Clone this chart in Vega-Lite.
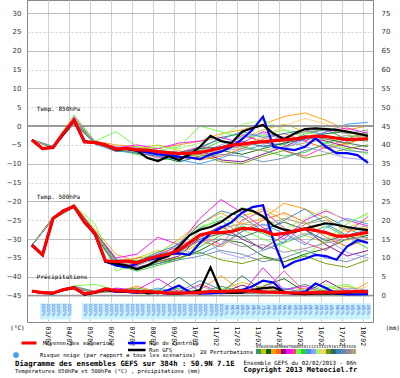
{
"$schema":"https://vega.github.io/schema/vega-lite/v6.json",
"width":346,"height":322,
"autosize":{"type":"none"},
"padding":{"left":27,"top":0,"right":27,"bottom":56},
"background":"white",
"config":{"view":{"stroke":"#888","strokeWidth":1},"font":"DejaVu Sans Mono","legend":{"columnPadding":0}},
"title":{"text":"Diagramme des ensembles GEFS sur 384h : 50.9N 7.1E","subtitle":"Températures 850hPa et 500hPa (°C) , précipitations (mm)","orient":"bottom","anchor":"start","frame":"group","dx":-12,"offset":-12,"font":"DejaVu Sans Mono","fontSize":7.3,"fontWeight":"bold","color":"#000","subtitleFont":"DejaVu Sans Mono","subtitleFontSize":5.5,"subtitleColor":"#000","subtitlePadding":2},
"datasets":{
"runs":[
{"s":"mean","h":0,"a":-3.7,"b":-31.6,"c":1.2},{"s":"mean","h":12,"a":-6.0,"b":-34.2,"c":0.8},{"s":"mean","h":24,"a":-5.7,"b":-24.5,"c":0.7},{"s":"mean","h":36,"a":-1.8,"b":-22.5,"c":1.6},{"s":"mean","h":48,"a":1.6,"b":-21.3,"c":2.1},{"s":"mean","h":60,"a":-4.2,"b":-25.5,"c":0.5},{"s":"mean","h":72,"a":-4.4,"b":-28.5,"c":0.9},{"s":"mean","h":84,"a":-5.0,"b":-35.8,"c":1.8},{"s":"mean","h":96,"a":-6.1,"b":-36.0,"c":1.3},{"s":"mean","h":108,"a":-5.9,"b":-35.8,"c":1.2},{"s":"mean","h":120,"a":-6.3,"b":-36.3,"c":1.0},{"s":"mean","h":132,"a":-6.4,"b":-35.3,"c":1.1},{"s":"mean","h":144,"a":-6.8,"b":-34.5,"c":0.9},{"s":"mean","h":156,"a":-7.1,"b":-34.0,"c":0.7},{"s":"mean","h":168,"a":-7.3,"b":-32.9,"c":0.7},{"s":"mean","h":180,"a":-7.2,"b":-31.0,"c":0.7},{"s":"mean","h":192,"a":-7.0,"b":-28.9,"c":0.8},{"s":"mean","h":204,"a":-6.4,"b":-28.3,"c":1.1},{"s":"mean","h":216,"a":-5.8,"b":-28.3,"c":1.1},{"s":"mean","h":228,"a":-5.1,"b":-28.0,"c":1.2},{"s":"mean","h":240,"a":-4.8,"b":-27.2,"c":1.3},{"s":"mean","h":252,"a":-4.4,"b":-27.3,"c":1.2},{"s":"mean","h":264,"a":-4.2,"b":-27.8,"c":1.0},{"s":"mean","h":276,"a":-3.9,"b":-28.8,"c":0.9},{"s":"mean","h":288,"a":-3.7,"b":-28.5,"c":0.8},{"s":"mean","h":300,"a":-3.4,"b":-27.8,"c":0.7},{"s":"mean","h":312,"a":-3.0,"b":-27.3,"c":0.7},{"s":"mean","h":324,"a":-2.7,"b":-27.7,"c":0.8},{"s":"mean","h":336,"a":-2.8,"b":-28.3,"c":0.9},{"s":"mean","h":348,"a":-3.2,"b":-29.2,"c":0.9},{"s":"mean","h":360,"a":-3.6,"b":-29.2,"c":1.0},{"s":"mean","h":372,"a":-3.5,"b":-28.7,"c":1.1},{"s":"mean","h":384,"a":-3.4,"b":-28.2,"c":1.0},
{"s":"ctrl","h":0,"a":-3.7,"b":-31.6,"c":1.2},{"s":"ctrl","h":12,"a":-6.0,"b":-34.2,"c":0.7},{"s":"ctrl","h":24,"a":-5.6,"b":-24.6,"c":0.6},{"s":"ctrl","h":36,"a":-2.0,"b":-22.4,"c":1.7},{"s":"ctrl","h":48,"a":1.5,"b":-21.3,"c":2.2},{"s":"ctrl","h":60,"a":-4.2,"b":-25.6,"c":0.3},{"s":"ctrl","h":72,"a":-4.5,"b":-28.8,"c":0.9},{"s":"ctrl","h":84,"a":-5.0,"b":-36.0,"c":1.6},{"s":"ctrl","h":96,"a":-6.2,"b":-37.0,"c":1.0},{"s":"ctrl","h":108,"a":-6.0,"b":-37.5,"c":1.0},{"s":"ctrl","h":120,"a":-6.5,"b":-36.5,"c":0.8},{"s":"ctrl","h":132,"a":-7.0,"b":-35.5,"c":1.2},{"s":"ctrl","h":144,"a":-7.5,"b":-35.0,"c":0.6},{"s":"ctrl","h":156,"a":-7.8,"b":-34.0,"c":1.5},{"s":"ctrl","h":168,"a":-8.2,"b":-33.8,"c":2.7},{"s":"ctrl","h":180,"a":-8.3,"b":-34.2,"c":1.0},{"s":"ctrl","h":192,"a":-8.8,"b":-31.0,"c":0.5},{"s":"ctrl","h":204,"a":-7.5,"b":-28.5,"c":0.6},{"s":"ctrl","h":216,"a":-6.8,"b":-27.0,"c":0.8},{"s":"ctrl","h":228,"a":-5.5,"b":-25.5,"c":1.0},{"s":"ctrl","h":240,"a":-3.5,"b":-23.0,"c":1.5},{"s":"ctrl","h":252,"a":-1.0,"b":-21.5,"c":2.5},{"s":"ctrl","h":264,"a":2.5,"b":-21.0,"c":4.0},{"s":"ctrl","h":276,"a":-5.5,"b":-30.5,"c":3.5},{"s":"ctrl","h":288,"a":-6.0,"b":-37.5,"c":0.8},{"s":"ctrl","h":300,"a":-6.4,"b":-36.0,"c":0.5},{"s":"ctrl","h":312,"a":-5.5,"b":-35.2,"c":1.0},{"s":"ctrl","h":324,"a":-3.3,"b":-34.2,"c":3.2},{"s":"ctrl","h":336,"a":-5.5,"b":-34.5,"c":2.0},{"s":"ctrl","h":348,"a":-7.2,"b":-35.5,"c":0.5},{"s":"ctrl","h":360,"a":-7.2,"b":-32.0,"c":0.3},{"s":"ctrl","h":372,"a":-7.7,"b":-30.3,"c":0.3},{"s":"ctrl","h":384,"a":-9.8,"b":-31.0,"c":0.4},
{"s":"gfs","h":0,"a":-3.7,"b":-31.6,"c":1.2},{"s":"gfs","h":12,"a":-6.0,"b":-34.2,"c":0.7},{"s":"gfs","h":24,"a":-5.6,"b":-24.5,"c":0.6},{"s":"gfs","h":36,"a":-2.2,"b":-22.5,"c":1.6},{"s":"gfs","h":48,"a":1.5,"b":-21.3,"c":2.0},{"s":"gfs","h":60,"a":-4.0,"b":-25.5,"c":0.3},{"s":"gfs","h":72,"a":-4.4,"b":-28.6,"c":0.8},{"s":"gfs","h":84,"a":-5.0,"b":-36.0,"c":1.5},{"s":"gfs","h":96,"a":-6.3,"b":-36.5,"c":1.2},{"s":"gfs","h":108,"a":-6.0,"b":-37.0,"c":1.0},{"s":"gfs","h":120,"a":-6.5,"b":-38.0,"c":1.2},{"s":"gfs","h":132,"a":-8.5,"b":-37.0,"c":0.6},{"s":"gfs","h":144,"a":-9.3,"b":-35.5,"c":0.8},{"s":"gfs","h":156,"a":-8.0,"b":-34.5,"c":0.5},{"s":"gfs","h":168,"a":-9.0,"b":-32.0,"c":0.5},{"s":"gfs","h":180,"a":-7.5,"b":-29.0,"c":0.8},{"s":"gfs","h":192,"a":-5.5,"b":-27.5,"c":1.5},{"s":"gfs","h":204,"a":-2.6,"b":-26.8,"c":7.5},{"s":"gfs","h":216,"a":-4.0,"b":-25.5,"c":1.0},{"s":"gfs","h":228,"a":-4.5,"b":-23.5,"c":0.7},{"s":"gfs","h":240,"a":-1.5,"b":-22.0,"c":0.8},{"s":"gfs","h":252,"a":-0.5,"b":-22.5,"c":1.5},{"s":"gfs","h":264,"a":0.3,"b":-24.0,"c":2.0},{"s":"gfs","h":276,"a":-2.0,"b":-26.5,"c":2.2},{"s":"gfs","h":288,"a":-3.5,"b":-27.5,"c":1.0},{"s":"gfs","h":300,"a":-2.0,"b":-28.0,"c":0.5},{"s":"gfs","h":312,"a":-0.8,"b":-27.2,"c":0.4},{"s":"gfs","h":324,"a":-0.6,"b":-26.5,"c":0.5},{"s":"gfs","h":336,"a":-0.8,"b":-25.8,"c":0.6},{"s":"gfs","h":348,"a":-1.0,"b":-26.2,"c":0.5},{"s":"gfs","h":360,"a":-1.5,"b":-26.8,"c":0.8},{"s":"gfs","h":372,"a":-2.0,"b":-27.3,"c":1.0},{"s":"gfs","h":384,"a":-2.6,"b":-27.6,"c":1.0}
],
"pert":[
{"s":"01","h":0,"a":-3.7,"b":-31.6,"c":1.2},{"s":"01","h":24,"a":-5.5,"b":-24.3,"c":0.6},{"s":"01","h":48,"a":0.5,"b":-21.0,"c":2.0},{"s":"01","h":72,"a":-4.6,"b":-28.0,"c":0.8},{"s":"01","h":96,"a":-5.5,"b":-35.5,"c":1.2},{"s":"01","h":120,"a":-6.8,"b":-37.0,"c":1.0},{"s":"01","h":144,"a":-7.5,"b":-35.0,"c":1.5},{"s":"01","h":168,"a":-8.5,"b":-31.0,"c":0.5},{"s":"01","h":192,"a":-6.0,"b":-27.0,"c":0.8},{"s":"01","h":216,"a":-3.0,"b":-25.0,"c":2.5},{"s":"01","h":240,"a":-2.0,"b":-29.0,"c":1.0},{"s":"01","h":264,"a":-4.5,"b":-33.0,"c":0.5},{"s":"01","h":288,"a":-5.0,"b":-31.0,"c":1.5},{"s":"01","h":312,"a":-2.0,"b":-26.0,"c":3.0},{"s":"01","h":336,"a":-1.0,"b":-24.0,"c":1.0},{"s":"01","h":360,"a":-3.5,"b":-27.0,"c":0.8},{"s":"01","h":384,"a":-4.0,"b":-30.0,"c":1.2},
{"s":"02","h":0,"a":-3.7,"b":-31.6,"c":1.2},{"s":"02","h":24,"a":-5.8,"b":-24.8,"c":0.7},{"s":"02","h":48,"a":1.0,"b":-21.5,"c":2.3},{"s":"02","h":72,"a":-4.2,"b":-29.0,"c":0.9},{"s":"02","h":96,"a":-6.5,"b":-36.5,"c":1.5},{"s":"02","h":120,"a":-6.0,"b":-35.0,"c":0.5},{"s":"02","h":144,"a":-5.0,"b":-33.0,"c":0.6},{"s":"02","h":168,"a":-6.5,"b":-34.0,"c":1.0},{"s":"02","h":192,"a":-8.5,"b":-31.0,"c":0.4},{"s":"02","h":216,"a":-7.0,"b":-27.5,"c":1.5},{"s":"02","h":240,"a":-3.5,"b":-24.0,"c":3.5},{"s":"02","h":264,"a":-1.0,"b":-22.0,"c":2.0},{"s":"02","h":288,"a":0.5,"b":-25.0,"c":1.0},{"s":"02","h":312,"a":-1.5,"b":-29.0,"c":0.5},{"s":"02","h":336,"a":-3.0,"b":-31.0,"c":1.5},{"s":"02","h":360,"a":-5.0,"b":-27.0,"c":2.5},{"s":"02","h":384,"a":-2.5,"b":-25.0,"c":1.0},
{"s":"03","h":0,"a":-3.7,"b":-31.6,"c":1.2},{"s":"03","h":24,"a":-5.4,"b":-24.5,"c":0.6},{"s":"03","h":48,"a":2.0,"b":-21.2,"c":2.1},{"s":"03","h":72,"a":-4.5,"b":-28.5,"c":1.0},{"s":"03","h":96,"a":-6.0,"b":-37.0,"c":1.3},{"s":"03","h":120,"a":-7.2,"b":-38.0,"c":1.2},{"s":"03","h":144,"a":-8.0,"b":-36.5,"c":0.8},{"s":"03","h":168,"a":-9.5,"b":-35.0,"c":0.6},{"s":"03","h":192,"a":-8.0,"b":-33.0,"c":1.0},{"s":"03","h":216,"a":-6.5,"b":-30.0,"c":0.5},{"s":"03","h":240,"a":-7.5,"b":-31.0,"c":0.8},{"s":"03","h":264,"a":-6.0,"b":-34.5,"c":2.5},{"s":"03","h":288,"a":-4.5,"b":-36.0,"c":4.5},{"s":"03","h":312,"a":-3.5,"b":-34.0,"c":1.0},{"s":"03","h":336,"a":-2.0,"b":-32.5,"c":0.5},{"s":"03","h":360,"a":-1.5,"b":-30.0,"c":0.6},{"s":"03","h":384,"a":-2.5,"b":-29.0,"c":1.5},
{"s":"04","h":0,"a":-3.7,"b":-31.6,"c":1.2},{"s":"04","h":24,"a":-5.6,"b":-24.2,"c":0.8},{"s":"04","h":48,"a":1.8,"b":-20.8,"c":2.4},{"s":"04","h":72,"a":-4.0,"b":-27.5,"c":0.7},{"s":"04","h":96,"a":-5.0,"b":-34.0,"c":1.0},{"s":"04","h":120,"a":-5.5,"b":-36.0,"c":2.5},{"s":"04","h":144,"a":-6.0,"b":-34.0,"c":1.0},{"s":"04","h":168,"a":-5.0,"b":-30.0,"c":0.5},{"s":"04","h":192,"a":-4.0,"b":-26.0,"c":1.5},{"s":"04","h":216,"a":-2.0,"b":-23.0,"c":5.3},{"s":"04","h":240,"a":-1.0,"b":-26.0,"c":1.2},{"s":"04","h":264,"a":0.5,"b":-24.5,"c":0.8},{"s":"04","h":288,"a":2.5,"b":-20.5,"c":0.5},{"s":"04","h":312,"a":3.5,"b":-22.0,"c":1.2},{"s":"04","h":336,"a":1.5,"b":-24.5,"c":0.7},{"s":"04","h":360,"a":-1.0,"b":-28.0,"c":0.5},{"s":"04","h":384,"a":0.0,"b":-27.0,"c":3.5},
{"s":"05","h":0,"a":-3.7,"b":-31.6,"c":1.2},{"s":"05","h":24,"a":-5.7,"b":-24.6,"c":0.7},{"s":"05","h":48,"a":1.2,"b":-21.4,"c":2.2},{"s":"05","h":72,"a":-4.3,"b":-29.0,"c":0.8},{"s":"05","h":96,"a":-6.8,"b":-36.5,"c":1.4},{"s":"05","h":120,"a":-6.0,"b":-35.0,"c":0.8},{"s":"05","h":144,"a":-7.0,"b":-34.5,"c":1.2},{"s":"05","h":168,"a":-8.0,"b":-33.0,"c":1.5},{"s":"05","h":192,"a":-9.0,"b":-30.5,"c":0.6},{"s":"05","h":216,"a":-8.0,"b":-32.0,"c":0.8},{"s":"05","h":240,"a":-6.0,"b":-28.0,"c":1.5},{"s":"05","h":264,"a":-3.5,"b":-25.0,"c":1.0},{"s":"05","h":288,"a":-2.0,"b":-23.0,"c":0.6},{"s":"05","h":312,"a":-4.0,"b":-25.5,"c":2.0},{"s":"05","h":336,"a":-6.0,"b":-29.5,"c":0.8},{"s":"05","h":360,"a":-4.5,"b":-32.0,"c":1.5},{"s":"05","h":384,"a":-3.0,"b":-30.0,"c":0.6},
{"s":"06","h":0,"a":-3.7,"b":-31.6,"c":1.2},{"s":"06","h":24,"a":-5.5,"b":-24.4,"c":0.6},{"s":"06","h":48,"a":1.5,"b":-21.1,"c":2.0},{"s":"06","h":72,"a":-4.4,"b":-28.5,"c":0.9},{"s":"06","h":96,"a":-6.2,"b":-36.0,"c":1.8},{"s":"06","h":120,"a":-6.5,"b":-37.5,"c":1.0},{"s":"06","h":144,"a":-7.0,"b":-36.0,"c":0.7},{"s":"06","h":168,"a":-7.5,"b":-34.5,"c":0.8},{"s":"06","h":192,"a":-6.5,"b":-29.5,"c":1.2},{"s":"06","h":216,"a":-9.0,"b":-26.5,"c":0.6},{"s":"06","h":240,"a":-9.5,"b":-30.0,"c":2.8},{"s":"06","h":264,"a":-7.5,"b":-32.5,"c":1.0},{"s":"06","h":288,"a":-5.5,"b":-29.0,"c":0.7},{"s":"06","h":312,"a":-3.0,"b":-27.5,"c":0.5},{"s":"06","h":336,"a":-4.0,"b":-31.5,"c":4.0},{"s":"06","h":360,"a":-5.5,"b":-34.5,"c":1.0},{"s":"06","h":384,"a":-6.5,"b":-33.0,"c":0.8},
{"s":"07","h":0,"a":-3.7,"b":-31.6,"c":1.2},{"s":"07","h":24,"a":-5.6,"b":-24.5,"c":0.7},{"s":"07","h":48,"a":2.5,"b":-20.9,"c":2.5},{"s":"07","h":72,"a":-4.0,"b":-28.2,"c":0.8},{"s":"07","h":96,"a":-5.8,"b":-35.0,"c":2.0},{"s":"07","h":120,"a":-5.0,"b":-34.0,"c":1.5},{"s":"07","h":144,"a":-6.0,"b":-29.5,"c":4.5},{"s":"07","h":168,"a":-4.5,"b":-31.5,"c":1.0},{"s":"07","h":192,"a":-4.0,"b":-24.5,"c":0.8},{"s":"07","h":216,"a":-3.0,"b":-19.5,"c":1.2},{"s":"07","h":240,"a":-4.5,"b":-23.0,"c":0.6},{"s":"07","h":264,"a":-1.5,"b":-27.0,"c":7.4},{"s":"07","h":288,"a":-3.0,"b":-30.0,"c":1.5},{"s":"07","h":312,"a":-4.0,"b":-25.0,"c":2.5},{"s":"07","h":336,"a":-1.5,"b":-22.5,"c":0.6},{"s":"07","h":360,"a":-0.5,"b":-25.0,"c":1.0},{"s":"07","h":384,"a":-2.0,"b":-26.5,"c":0.7},
{"s":"08","h":0,"a":-3.7,"b":-31.6,"c":1.2},{"s":"08","h":24,"a":-5.8,"b":-24.7,"c":0.8},{"s":"08","h":48,"a":0.8,"b":-21.6,"c":2.1},{"s":"08","h":72,"a":-4.7,"b":-28.8,"c":1.0},{"s":"08","h":96,"a":-6.0,"b":-36.2,"c":1.1},{"s":"08","h":120,"a":-6.8,"b":-37.0,"c":0.6},{"s":"08","h":144,"a":-8.5,"b":-34.0,"c":1.0},{"s":"08","h":168,"a":-7.0,"b":-32.0,"c":0.5},{"s":"08","h":192,"a":-5.5,"b":-29.0,"c":3.0},{"s":"08","h":216,"a":-6.0,"b":-31.5,"c":1.0},{"s":"08","h":240,"a":-2.5,"b":-25.0,"c":0.8},{"s":"08","h":264,"a":-4.0,"b":-22.5,"c":0.7},{"s":"08","h":288,"a":-6.5,"b":-27.0,"c":6.6},{"s":"08","h":312,"a":-8.0,"b":-31.0,"c":1.0},{"s":"08","h":336,"a":-5.5,"b":-33.0,"c":1.2},{"s":"08","h":360,"a":-3.5,"b":-28.5,"c":0.5},{"s":"08","h":384,"a":-1.5,"b":-24.0,"c":0.8},
{"s":"09","h":0,"a":-3.7,"b":-31.6,"c":1.2},{"s":"09","h":24,"a":-5.5,"b":-24.3,"c":0.6},{"s":"09","h":48,"a":3.0,"b":-21.0,"c":2.6},{"s":"09","h":72,"a":-4.1,"b":-26.0,"c":3.0},{"s":"09","h":96,"a":-1.5,"b":-38.5,"c":1.5},{"s":"09","h":120,"a":-5.5,"b":-36.5,"c":1.0},{"s":"09","h":144,"a":-6.5,"b":-35.0,"c":0.8},{"s":"09","h":168,"a":-5.5,"b":-33.5,"c":0.7},{"s":"09","h":192,"a":0.0,"b":-27.5,"c":0.5},{"s":"09","h":216,"a":-1.5,"b":-24.0,"c":0.9},{"s":"09","h":240,"a":-3.0,"b":-27.5,"c":1.2},{"s":"09","h":264,"a":-2.5,"b":-30.0,"c":0.6},{"s":"09","h":288,"a":-1.0,"b":-32.0,"c":1.0},{"s":"09","h":312,"a":-3.0,"b":-34.5,"c":0.8},{"s":"09","h":336,"a":-4.5,"b":-30.0,"c":2.0},{"s":"09","h":360,"a":-6.0,"b":-26.0,"c":3.0},{"s":"09","h":384,"a":-7.5,"b":-23.0,"c":0.6},
{"s":"10","h":0,"a":-3.7,"b":-31.6,"c":1.2},{"s":"10","h":24,"a":-5.6,"b":-24.6,"c":0.7},{"s":"10","h":48,"a":1.4,"b":-21.3,"c":2.2},{"s":"10","h":72,"a":-4.5,"b":-28.6,"c":0.8},{"s":"10","h":96,"a":-6.3,"b":-36.8,"c":1.2},{"s":"10","h":120,"a":-7.5,"b":-38.5,"c":1.5},{"s":"10","h":144,"a":-9.0,"b":-37.0,"c":1.0},{"s":"10","h":168,"a":-8.5,"b":-35.5,"c":2.0},{"s":"10","h":192,"a":-6.5,"b":-32.0,"c":0.7},{"s":"10","h":216,"a":-4.0,"b":-29.0,"c":1.5},{"s":"10","h":240,"a":-5.5,"b":-26.5,"c":0.5},{"s":"10","h":264,"a":-6.5,"b":-28.5,"c":1.0},{"s":"10","h":288,"a":-8.0,"b":-31.0,"c":0.8},{"s":"10","h":312,"a":-7.0,"b":-29.0,"c":0.6},{"s":"10","h":336,"a":-4.5,"b":-26.5,"c":0.5},{"s":"10","h":360,"a":-3.0,"b":-29.5,"c":0.8},{"s":"10","h":384,"a":-2.0,"b":-32.5,"c":1.0},
{"s":"11","h":0,"a":-3.7,"b":-31.6,"c":1.2},{"s":"11","h":24,"a":-5.7,"b":-24.5,"c":0.6},{"s":"11","h":48,"a":1.0,"b":-21.5,"c":2.0},{"s":"11","h":72,"a":-4.8,"b":-29.2,"c":0.9},{"s":"11","h":96,"a":-6.7,"b":-37.0,"c":1.0},{"s":"11","h":120,"a":-7.0,"b":-36.0,"c":0.7},{"s":"11","h":144,"a":-8.0,"b":-34.0,"c":2.0},{"s":"11","h":168,"a":-9.0,"b":-33.0,"c":0.8},{"s":"11","h":192,"a":-10.0,"b":-34.0,"c":1.0},{"s":"11","h":216,"a":-8.5,"b":-31.5,"c":0.5},{"s":"11","h":240,"a":-6.5,"b":-28.0,"c":1.8},{"s":"11","h":264,"a":-5.0,"b":-26.0,"c":0.6},{"s":"11","h":288,"a":-6.0,"b":-28.5,"c":0.9},{"s":"11","h":312,"a":-3.5,"b":-31.5,"c":1.5},{"s":"11","h":336,"a":-1.5,"b":-27.0,"c":0.6},{"s":"11","h":360,"a":0.5,"b":-24.5,"c":0.4},{"s":"11","h":384,"a":1.0,"b":-26.0,"c":0.5},
{"s":"12","h":0,"a":-3.7,"b":-31.6,"c":1.2},{"s":"12","h":24,"a":-5.5,"b":-24.4,"c":0.7},{"s":"12","h":48,"a":1.7,"b":-21.2,"c":2.3},{"s":"12","h":72,"a":-4.2,"b":-28.3,"c":0.7},{"s":"12","h":96,"a":-5.5,"b":-35.8,"c":1.3},{"s":"12","h":120,"a":-5.8,"b":-36.5,"c":1.2},{"s":"12","h":144,"a":-6.5,"b":-35.5,"c":0.6},{"s":"12","h":168,"a":-7.0,"b":-32.5,"c":1.0},{"s":"12","h":192,"a":-7.5,"b":-29.0,"c":2.5},{"s":"12","h":216,"a":-5.0,"b":-33.5,"c":1.0},{"s":"12","h":240,"a":-3.0,"b":-35.0,"c":0.7},{"s":"12","h":264,"a":-2.0,"b":-33.0,"c":1.5},{"s":"12","h":288,"a":-3.5,"b":-30.5,"c":0.5},{"s":"12","h":312,"a":-5.5,"b":-28.5,"c":0.7},{"s":"12","h":336,"a":-7.0,"b":-30.0,"c":1.0},{"s":"12","h":360,"a":-8.5,"b":-33.5,"c":2.0},{"s":"12","h":384,"a":-9.0,"b":-35.0,"c":1.5},
{"s":"13","h":0,"a":-3.7,"b":-31.6,"c":1.2},{"s":"13","h":24,"a":-5.6,"b":-24.6,"c":0.8},{"s":"13","h":48,"a":2.2,"b":-21.4,"c":2.4},{"s":"13","h":72,"a":-4.3,"b":-28.7,"c":1.2},{"s":"13","h":96,"a":-6.0,"b":-36.3,"c":1.6},{"s":"13","h":120,"a":-6.2,"b":-35.5,"c":0.8},{"s":"13","h":144,"a":-5.5,"b":-33.5,"c":1.5},{"s":"13","h":168,"a":-6.0,"b":-30.5,"c":0.6},{"s":"13","h":192,"a":-4.5,"b":-26.5,"c":0.9},{"s":"13","h":216,"a":-2.5,"b":-25.5,"c":2.0},{"s":"13","h":240,"a":0.5,"b":-21.5,"c":1.0},{"s":"13","h":264,"a":1.5,"b":-24.0,"c":0.5},{"s":"13","h":288,"a":-1.0,"b":-27.5,"c":1.2},{"s":"13","h":312,"a":-2.0,"b":-24.5,"c":0.8},{"s":"13","h":336,"a":-0.5,"b":-22.0,"c":3.0},{"s":"13","h":360,"a":-2.0,"b":-25.5,"c":0.7},{"s":"13","h":384,"a":-4.0,"b":-23.5,"c":0.5},
{"s":"14","h":0,"a":-3.7,"b":-31.6,"c":1.2},{"s":"14","h":24,"a":-5.4,"b":-24.5,"c":0.6},{"s":"14","h":48,"a":1.6,"b":-21.1,"c":2.1},{"s":"14","h":72,"a":-4.6,"b":-28.4,"c":0.8},{"s":"14","h":96,"a":-6.4,"b":-36.0,"c":1.0},{"s":"14","h":120,"a":-6.8,"b":-36.8,"c":1.0},{"s":"14","h":144,"a":-7.5,"b":-35.0,"c":0.5},{"s":"14","h":168,"a":-6.5,"b":-34.0,"c":0.8},{"s":"14","h":192,"a":-8.0,"b":-31.5,"c":1.5},{"s":"14","h":216,"a":-6.5,"b":-28.0,"c":0.7},{"s":"14","h":240,"a":-5.0,"b":-25.5,"c":0.9},{"s":"14","h":264,"a":-3.0,"b":-21.5,"c":2.5},{"s":"14","h":288,"a":0.0,"b":-23.5,"c":0.7},{"s":"14","h":312,"a":2.0,"b":-27.0,"c":1.8},{"s":"14","h":336,"a":0.5,"b":-28.0,"c":0.5},{"s":"14","h":360,"a":-1.5,"b":-30.5,"c":0.6},{"s":"14","h":384,"a":-3.0,"b":-28.5,"c":2.5},
{"s":"15","h":0,"a":-3.7,"b":-31.6,"c":1.2},{"s":"15","h":24,"a":-5.7,"b":-24.7,"c":0.7},{"s":"15","h":48,"a":1.1,"b":-21.5,"c":2.2},{"s":"15","h":72,"a":-4.4,"b":-29.0,"c":1.0},{"s":"15","h":96,"a":-6.6,"b":-37.2,"c":1.4},{"s":"15","h":120,"a":-6.3,"b":-38.0,"c":2.0},{"s":"15","h":144,"a":-7.2,"b":-36.0,"c":0.9},{"s":"15","h":168,"a":-8.2,"b":-35.0,"c":0.6},{"s":"15","h":192,"a":-7.5,"b":-33.5,"c":0.7},{"s":"15","h":216,"a":-9.5,"b":-35.5,"c":0.8},{"s":"15","h":240,"a":-10.0,"b":-36.5,"c":0.6},{"s":"15","h":264,"a":-8.0,"b":-35.0,"c":0.8},{"s":"15","h":288,"a":-6.5,"b":-36.0,"c":1.0},{"s":"15","h":312,"a":-8.5,"b":-34.5,"c":0.6},{"s":"15","h":336,"a":-7.5,"b":-36.5,"c":1.5},{"s":"15","h":360,"a":-6.0,"b":-37.5,"c":1.0},{"s":"15","h":384,"a":-5.0,"b":-35.5,"c":0.8},
{"s":"16","h":0,"a":-3.7,"b":-31.6,"c":1.2},{"s":"16","h":24,"a":-5.6,"b":-24.3,"c":0.8},{"s":"16","h":48,"a":1.9,"b":-21.0,"c":2.0},{"s":"16","h":72,"a":-4.5,"b":-28.0,"c":0.9},{"s":"16","h":96,"a":-6.1,"b":-35.5,"c":1.2},{"s":"16","h":120,"a":-6.5,"b":-35.8,"c":0.6},{"s":"16","h":144,"a":-6.8,"b":-34.5,"c":1.2},{"s":"16","h":168,"a":-7.0,"b":-33.5,"c":4.9},{"s":"16","h":192,"a":-6.0,"b":-30.0,"c":1.0},{"s":"16","h":216,"a":-5.5,"b":-28.5,"c":0.7},{"s":"16","h":240,"a":-4.0,"b":-29.5,"c":5.3},{"s":"16","h":264,"a":-5.5,"b":-27.5,"c":1.2},{"s":"16","h":288,"a":-4.5,"b":-25.5,"c":0.6},{"s":"16","h":312,"a":-2.5,"b":-27.5,"c":1.0},{"s":"16","h":336,"a":-3.5,"b":-30.5,"c":0.8},{"s":"16","h":360,"a":-4.5,"b":-29.0,"c":1.2},{"s":"16","h":384,"a":-5.5,"b":-31.0,"c":0.6},
{"s":"17","h":0,"a":-3.7,"b":-31.6,"c":1.2},{"s":"17","h":24,"a":-5.5,"b":-24.5,"c":0.6},{"s":"17","h":48,"a":1.3,"b":-21.2,"c":2.3},{"s":"17","h":72,"a":-4.3,"b":-28.5,"c":0.8},{"s":"17","h":96,"a":-5.9,"b":-36.2,"c":1.7},{"s":"17","h":120,"a":-6.6,"b":-36.0,"c":1.0},{"s":"17","h":144,"a":-7.5,"b":-33.5,"c":0.7},{"s":"17","h":168,"a":-7.8,"b":-31.5,"c":1.0},{"s":"17","h":192,"a":-5.5,"b":-26.0,"c":4.0},{"s":"17","h":216,"a":-3.5,"b":-22.5,"c":1.5},{"s":"17","h":240,"a":-1.5,"b":-24.0,"c":0.8},{"s":"17","h":264,"a":-3.0,"b":-28.0,"c":0.6},{"s":"17","h":288,"a":-2.0,"b":-25.0,"c":2.0},{"s":"17","h":312,"a":-1.0,"b":-22.0,"c":0.7},{"s":"17","h":336,"a":-2.5,"b":-26.0,"c":1.0},{"s":"17","h":360,"a":-4.0,"b":-29.0,"c":0.5},{"s":"17","h":384,"a":-3.5,"b":-27.5,"c":0.7},
{"s":"18","h":0,"a":-3.7,"b":-31.6,"c":1.2},{"s":"18","h":24,"a":-5.8,"b":-24.6,"c":0.7},{"s":"18","h":48,"a":0.9,"b":-21.6,"c":2.5},{"s":"18","h":72,"a":-4.7,"b":-29.2,"c":1.1},{"s":"18","h":96,"a":-6.5,"b":-36.8,"c":1.1},{"s":"18","h":120,"a":-7.0,"b":-37.5,"c":0.8},{"s":"18","h":144,"a":-7.0,"b":-36.5,"c":1.0},{"s":"18","h":168,"a":-8.0,"b":-35.5,"c":0.7},{"s":"18","h":192,"a":-8.5,"b":-34.5,"c":0.6},{"s":"18","h":216,"a":-7.5,"b":-33.0,"c":0.5},{"s":"18","h":240,"a":-8.0,"b":-34.0,"c":0.6},{"s":"18","h":264,"a":-9.5,"b":-36.0,"c":0.9},{"s":"18","h":288,"a":-8.5,"b":-35.0,"c":0.6},{"s":"18","h":312,"a":-6.5,"b":-33.0,"c":0.5},{"s":"18","h":336,"a":-5.0,"b":-35.0,"c":0.7},{"s":"18","h":360,"a":-6.5,"b":-36.0,"c":0.8},{"s":"18","h":384,"a":-7.0,"b":-34.0,"c":0.5},
{"s":"19","h":0,"a":-3.7,"b":-31.6,"c":1.2},{"s":"19","h":24,"a":-5.6,"b":-24.4,"c":0.6},{"s":"19","h":48,"a":1.5,"b":-21.3,"c":2.1},{"s":"19","h":72,"a":-4.4,"b":-28.6,"c":0.8},{"s":"19","h":96,"a":-6.0,"b":-36.1,"c":1.3},{"s":"19","h":120,"a":-6.0,"b":-36.4,"c":1.2},{"s":"19","h":144,"a":-6.5,"b":-34.8,"c":0.8},{"s":"19","h":168,"a":-7.0,"b":-33.0,"c":1.2},{"s":"19","h":192,"a":-7.5,"b":-30.5,"c":0.8},{"s":"19","h":216,"a":-6.0,"b":-30.0,"c":1.0},{"s":"19","h":240,"a":-5.5,"b":-32.0,"c":0.7},{"s":"19","h":264,"a":-4.0,"b":-31.5,"c":0.5},{"s":"19","h":288,"a":-3.0,"b":-33.5,"c":0.8},{"s":"19","h":312,"a":-1.5,"b":-32.5,"c":1.0},{"s":"19","h":336,"a":-1.0,"b":-31.0,"c":0.6},{"s":"19","h":360,"a":-2.0,"b":-30.0,"c":1.5},{"s":"19","h":384,"a":-1.0,"b":-29.5,"c":1.0},
{"s":"20","h":0,"a":-3.7,"b":-31.6,"c":1.2},{"s":"20","h":24,"a":-5.7,"b":-24.5,"c":0.7},{"s":"20","h":48,"a":1.6,"b":-21.3,"c":2.2},{"s":"20","h":72,"a":-4.5,"b":-28.5,"c":0.9},{"s":"20","h":96,"a":-6.2,"b":-36.0,"c":1.5},{"s":"20","h":120,"a":-6.4,"b":-36.2,"c":0.9},{"s":"20","h":144,"a":-6.9,"b":-34.6,"c":1.1},{"s":"20","h":168,"a":-7.4,"b":-32.8,"c":0.8},{"s":"20","h":192,"a":-7.2,"b":-29.5,"c":0.9},{"s":"20","h":216,"a":-6.5,"b":-27.0,"c":1.2},{"s":"20","h":240,"a":-6.0,"b":-26.0,"c":1.0},{"s":"20","h":264,"a":-6.5,"b":-26.5,"c":0.8},{"s":"20","h":288,"a":-5.5,"b":-24.5,"c":1.2},{"s":"20","h":312,"a":-4.5,"b":-26.0,"c":0.9},{"s":"20","h":336,"a":-3.5,"b":-25.0,"c":0.8},{"s":"20","h":360,"a":-2.5,"b":-27.5,"c":0.7},{"s":"20","h":384,"a":-3.0,"b":-26.5,"c":1.2}
],
"snow":[
{"h":12,"p":1},{"h":18,"p":1},{"h":24,"p":1},{"h":30,"p":1},{"h":36,"p":1},{"h":42,"p":1},
{"h":60,"p":1},{"h":66,"p":1},{"h":72,"p":1},{"h":78,"p":1},{"h":84,"p":1},{"h":90,"p":1},{"h":96,"p":1},{"h":102,"p":1},{"h":108,"p":1},{"h":114,"p":1},{"h":120,"p":1},{"h":126,"p":1},{"h":132,"p":1},{"h":138,"p":1},{"h":144,"p":1},{"h":150,"p":1},{"h":156,"p":1},{"h":162,"p":1},{"h":168,"p":1},{"h":174,"p":1},{"h":180,"p":1},{"h":186,"p":1},{"h":192,"p":1},{"h":198,"p":1},{"h":204,"p":1},{"h":210,"p":1},{"h":216,"p":1},{"h":222,"p":0.95},{"h":228,"p":0.9},{"h":234,"p":0.9},{"h":240,"p":0.85},{"h":246,"p":0.85},{"h":252,"p":0.8},{"h":258,"p":0.8},{"h":264,"p":0.75},{"h":270,"p":0.8},{"h":276,"p":0.85},{"h":282,"p":0.9},{"h":288,"p":0.9},{"h":294,"p":0.9},{"h":300,"p":0.85},{"h":306,"p":0.85},{"h":312,"p":0.8},{"h":318,"p":0.8},{"h":324,"p":0.8},{"h":330,"p":0.85},{"h":336,"p":0.85},{"h":342,"p":0.85},{"h":348,"p":0.9},{"h":354,"p":0.9},{"h":360,"p":0.85},{"h":366,"p":0.85},{"h":372,"p":0.85},{"h":378,"p":0.85},{"h":384,"p":0.85}
]
},
"resolve":{"scale":{"y":"independent"},"axis":{"x":"independent"}},
"layer":[
{
"layer":[
{"data":{"name":"pert"},"mark":{"type":"line","strokeWidth":0.9},
 "encoding":{
  "x":{"field":"h","type":"quantitative","title":"Ensemble GEFS du 02/02/2013 - 06h","scale":{"domain":[0,384],"nice":false,"zero":false},
   "axis":{"orient":"bottom","values":[18,42,66,90,114,138,162,186,210,234,258,282,306,330,354,378],"tickCount":40,"labelExpr":"utcFormat(utc(2013,1,2,6)+datum.value*3600000,'%d/%m')","labelOverlap":false,"labelBound":false,"labelFlush":false,"labelAngle":90,"labelAlign":"left","labelBaseline":"middle","labelFont":"DejaVu Sans Mono","labelFontSize":6.5,"labelColor":"#000","labelPadding":4,"ticks":false,"domain":false,"grid":true,"gridColor":"#d0d0d0","gridWidth":1,"titleX":216,"titleY":40,"titleAlign":"left","titleAnchor":"start","titleBaseline":"middle","titleFont":"DejaVu Sans Mono","titleFontSize":5.7,"titleFontWeight":"normal","titleColor":"#000"}},
  "y":{"field":"a","type":"quantitative","title":"(°C)","scale":{"domain":[-52,33.45],"nice":false,"zero":false},
   "axis":{"orient":"left","values":[30,25,20,15,10,5,0,-5,-10,-15,-20,-25,-30,-35,-40,-45],"tickCount":40,"labelOverlap":false,"labelBound":false,"labelFlush":false,"labelFont":"DejaVu Sans","labelFontSize":7,"labelColor":"#333","labelPadding":6,"ticks":false,"domain":false,"grid":true,
    "gridColor":{"condition":{"test":"datum.value % 10 === 0","value":"#bdbdbd"},"value":"#cfcfcf"},
    "gridDash":{"condition":{"test":"datum.value % 10 === 0","value":[]},"value":[2,2]},
    "titleAngle":0,"titleX":-10,"titleY":327,"titleAlign":"center","titleBaseline":"middle","titleFont":"DejaVu Sans Mono","titleFontSize":6,"titleFontWeight":"normal","titleColor":"#000"}},
  "stroke":{"field":"s","type":"nominal","scale":{"domain":["01","02","03","04","05","06","07","08","09","10","11","12","13","14","15","16","17","18","19","20"],"range":["#339966","#c8c800","#006600","#ff9900","#ff6600","#800080","#ff00ff","#ff3399","#66ff33","#33cc33","#3399ff","#9999ff","#99ff66","#ffcc66","#669900","#336666","#3388bb","#6688aa","#998899","#b0a080"]},
   "legend":{"orient":"none","legendX":173,"legendY":349,"title":"20 Perturbations","titleOrient":"left","titleFont":"DejaVu Sans Mono","titleFontSize":5.5,"titleFontWeight":"normal","titleColor":"#000","titlePadding":3,"columns":20,"direction":"horizontal","symbolType":"square","symbolSize":25,"symbolStrokeWidth":0,"labelFont":"DejaVu Sans Mono","labelFontSize":4,"labelColor":"#000","labelOffset":0,"columnPadding":0,
    "encode":{"symbols":{"update":{"fill":{"scale":"stroke","field":"value"}}},"labels":{"update":{"dx":{"value":-5},"dy":{"value":-5}}}}}}}},
{"data":{"values":[{}]},"mark":{"type":"rule","color":"#999","strokeWidth":2},"encoding":{"y":{"datum":0}}},
{"data":{"values":[{}]},"mark":{"type":"rule","color":"#999","strokeWidth":1.5},"encoding":{"y":{"datum":-45}}},
{"data":{"name":"snow"},"mark":{"type":"bar","size":5},
 "encoding":{"x":{"field":"h","type":"quantitative","title":"Ensemble GEFS du 02/02/2013 - 06h"},"y":{"datum":-47},"y2":{"datum":-51.3},
 "fill":{"datum":"Risque neige (par rapport a tous les scénarios)","type":"nominal","scale":{"range":["#c6f2fb"]},
  "legend":{"orient":"none","legendX":-15,"legendY":351,"title":null,"symbolType":"M-1,0L1,0M0,-1L0,1M-0.7,-0.7L0.7,0.7M-0.7,0.7L0.7,-0.7","symbolSize":40,"symbolFillColor":"transparent","symbolStrokeColor":"#4a9cf0","symbolStrokeWidth":1.5,"labelOffset":20,"labelFont":"DejaVu Sans Mono","labelFontSize":5.5,"labelColor":"#000"}}}},
{"data":{"name":"snow"},"mark":{"type":"text","angle":90,"fontSize":4.5,"font":"DejaVu Sans","color":"#3f5fe8"},
 "encoding":{"x":{"field":"h","type":"quantitative","title":"Ensemble GEFS du 02/02/2013 - 06h"},"y":{"datum":-48.8},"text":{"field":"p","type":"quantitative","format":".0%"}}},
{"data":{"name":"pert"},"mark":{"type":"line","strokeWidth":0.9},
 "encoding":{"x":{"field":"h","type":"quantitative","title":"Ensemble GEFS du 02/02/2013 - 06h"},"y":{"field":"b","type":"quantitative","title":"(°C)"},"stroke":{"field":"s","type":"nominal"}}},
{"data":{"name":"runs"},"transform":[{"filter":"datum.s != 'mean'"}],"mark":{"type":"line","strokeWidth":2.2},
 "encoding":{"x":{"field":"h","type":"quantitative","title":"Ensemble GEFS du 02/02/2013 - 06h"},"y":{"field":"a","type":"quantitative","title":"(°C)"},
  "color":{"field":"s","type":"nominal","scale":{"domain":["ctrl","gfs"],"range":["#0000ff","#000000"]},
   "legend":{"orient":"none","legendX":101,"legendY":340,"title":null,"direction":"vertical","clipHeight":6,"symbolType":"M-5,0L9.7,0","symbolSize":9,"symbolStrokeWidth":2.5,"labelExpr":"datum.label == 'ctrl' ? 'Run de contrôle' : 'Run GFS'","labelFont":"DejaVu Sans Mono","labelFontSize":5.5,"labelColor":"#000","labelOffset":15,"rowPadding":0}}}},
{"data":{"name":"runs"},"transform":[{"filter":"datum.s != 'mean'"}],"mark":{"type":"line","strokeWidth":2.2},
 "encoding":{"x":{"field":"h","type":"quantitative","title":"Ensemble GEFS du 02/02/2013 - 06h"},"y":{"field":"b","type":"quantitative","title":"(°C)"},"color":{"field":"s","type":"nominal"}}},
{"data":{"name":"runs"},"transform":[{"filter":"datum.s == 'mean'"}],"mark":{"type":"line","strokeWidth":3.2,"color":"#ff0000"},
 "encoding":{"x":{"field":"h","type":"quantitative","title":"Ensemble GEFS du 02/02/2013 - 06h"},"y":{"field":"a","type":"quantitative","title":"(°C)"},
  "strokeDash":{"datum":"Moyenne des scénarios","type":"nominal","scale":{"range":[[1,0]]},
   "legend":{"orient":"none","legendX":-7,"legendY":334,"title":null,"symbolType":"stroke","symbolSize":225,"symbolStrokeColor":"#ff0000","symbolStrokeWidth":3,"labelFont":"DejaVu Sans Mono","labelFontSize":5.5,"labelColor":"#000","labelOffset":5}}}},
{"data":{"name":"runs"},"transform":[{"filter":"datum.s == 'mean'"}],"mark":{"type":"line","strokeWidth":3.2,"color":"#ff0000"},
 "encoding":{"x":{"field":"h","type":"quantitative","title":"Ensemble GEFS du 02/02/2013 - 06h"},"y":{"field":"b","type":"quantitative","title":"(°C)"},"strokeDash":{"datum":"Moyenne des scénarios","type":"nominal"}}},
{"data":{"values":[{}]},"mark":{"type":"text","text":"Temp. 850hPa","align":"left","baseline":"alphabetic","font":"DejaVu Sans Mono","fontSize":6,"color":"#000"},"encoding":{"x":{"datum":5.5},"y":{"datum":4.0}}},
{"data":{"values":[{}]},"mark":{"type":"text","text":"Temp. 500hPa","align":"left","baseline":"alphabetic","font":"DejaVu Sans Mono","fontSize":6,"color":"#000"},"encoding":{"x":{"datum":5.5},"y":{"datum":-19.4}}},
{"data":{"values":[{}]},"mark":{"type":"text","text":"Précipitations","align":"left","baseline":"alphabetic","font":"DejaVu Sans Mono","fontSize":6,"color":"#000"},"encoding":{"x":{"datum":5.5},"y":{"datum":-40.7}}}
]
},
{
"encoding":{
 "x":{"field":"h","type":"quantitative","title":"Copyright 2013 Meteociel.fr","axis":{"orient":"top","labels":false,"ticks":false,"domain":false,"grid":false,"titleX":216,"titleY":372,"titleAlign":"left","titleAnchor":"start","titleBaseline":"bottom","titleFont":"DejaVu Sans Mono","titleFontSize":7,"titleFontWeight":"bold","titleColor":"#000"}},
 "y":{"field":"c","type":"quantitative","title":"(mm)","scale":{"domain":[-7,78.45],"nice":false,"zero":false},
  "axis":{"orient":"right","values":[75,70,65,60,55,50,45,40,35,30,25,20,15,10,5,0],"tickCount":40,"labelOverlap":false,"grid":false,"ticks":false,"domain":false,"labelFont":"DejaVu Sans","labelFontSize":7,"labelColor":"#333","labelPadding":8,"titleAngle":0,"titleX":12,"titleY":327,"titleAlign":"left","titleBaseline":"middle","titleFont":"DejaVu Sans Mono","titleFontSize":6,"titleFontWeight":"normal","titleColor":"#000"}}},
"layer":[
{"data":{"name":"pert"},"mark":{"type":"line","strokeWidth":0.9},"encoding":{"stroke":{"field":"s","type":"nominal"}}},
{"data":{"name":"runs"},"transform":[{"filter":"datum.s != 'mean'"}],"mark":{"type":"line","strokeWidth":2.2},"encoding":{"color":{"field":"s","type":"nominal"}}},
{"data":{"name":"runs"},"transform":[{"filter":"datum.s == 'mean'"}],"mark":{"type":"line","strokeWidth":3.2,"color":"#ff0000"},"encoding":{"strokeDash":{"datum":"Moyenne des scénarios","type":"nominal"}}}
]
}
]
}
